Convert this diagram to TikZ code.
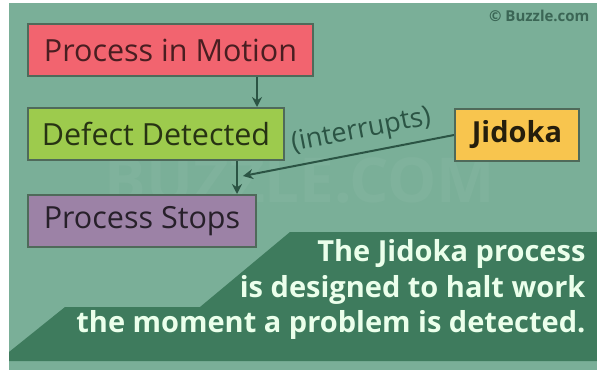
\documentclass[tikz,border=0pt]{standalone}
\usepackage{fontspec}
\setmainfont{Open Sans}
\usetikzlibrary{arrows.meta,positioning}

\definecolor{bgteal}{HTML}{7AAF98}
\definecolor{bandgreen}{HTML}{3E7B5D}
\definecolor{edgegray}{HTML}{4F6A5A}
\definecolor{flowgreen}{HTML}{2B5444}
\definecolor{motionred}{HTML}{F2646F}
\definecolor{defectgreen}{HTML}{9DCB4D}
\definecolor{stopviolet}{HTML}{9C82A6}
\definecolor{jidokayellow}{HTML}{F8C54E}

\tikzset{
  stage/.style={draw=edgegray, line width=2pt, anchor=north west,
    minimum height=52pt, inner xsep=10pt, font=\fontsize{30.5}{32}\selectfont},
  flow/.style={draw=flowgreen, line width=2pt, -{Stealth[length=10pt,width=10pt]}},
}

\begin{document}
\begin{tikzpicture}[x=1pt,y=-1pt]
    \useasboundingbox (0,0) rectangle (597,370);
    \fill[white] (0,0) rectangle (597,370);
    \fill[bgteal] (9,3) rectangle (597,370);
    % faint watermark
    \node[text=white, opacity=0.04, font=\fontsize{62}{62}\selectfont\bfseries] (mark) at (300,180) {BUZZLE.COM};
    \node[anchor=east, text=flowgreen!80!bgteal, font=\fontsize{15}{15}\selectfont\bfseries] (credit) at (593,16) {© Buzzle.com};
    % lower banner
    \fill[bandgreen] (9,352) -- (65,307) -- (200,307) -- (290,232) -- (597,232) -- (597,361) -- (9,361) -- cycle;
    \node[anchor=north east, align=right, text=white!92!green, font=\fontsize{29}{35.5}\selectfont\bfseries] (note) at (589,236)
      {The Jidoka process\\is designed to halt work\\the moment a problem is detected.};
    % stages
    \node[stage, fill=motionred, text=motionred!30!black, minimum width=285pt] (pim) at (27,23) {Process in Motion};
    \node[stage, fill=defectgreen, text=defectgreen!25!black, minimum width=256pt] (dd) at (27,107) {Defect Detected};
    \node[stage, fill=stopviolet, text=stopviolet!25!black, minimum width=228pt] (ps) at (27,194) {Process Stops};
    \node[stage, fill=jidokayellow, text=jidokayellow!15!black, minimum width=124pt, font=\fontsize{29}{30}\selectfont\bfseries] (jid) at (454,108) {Jidoka};
    % connectors
    \coordinate (join) at (237,176);
    \draw[flow] ([xshift=-28pt]dd.north east |- pim.south) -- ([xshift=-28pt]dd.north east);
    \draw[flow] (join |- dd.south) -- (join |- ps.north);
    \draw[flow] (jid.west) -- node[pos=0.42, sloped, above=4pt, text=flowgreen, font=\fontsize{27}{27}\selectfont] (why) {(interrupts)} ([xshift=6pt]join);
\end{tikzpicture}
\end{document}
